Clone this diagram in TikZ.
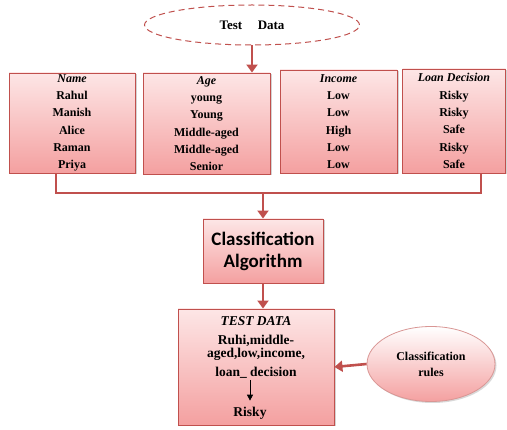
\documentclass[tikz,border=0pt]{standalone}
\usepackage{fontspec}
\setmainfont{Liberation Serif}
\newfontfamily\calfont{Carlito}
\usetikzlibrary{shapes.geometric,shadows,arrows.meta}
\definecolor{boxred}{HTML}{C0504D}
\definecolor{boxpink}{HTML}{F4A0A0}
\definecolor{boxlight}{HTML}{FDE6E6}
\begin{document}
\begin{tikzpicture}[x=1pt,y=-1pt,
  tbl/.style={draw=boxred, line width=0.9pt, top color=boxlight, bottom color=boxpink,
    drop shadow={opacity=0.35,shadow xshift=1.5pt,shadow yshift=-1.5pt},
    align=center, inner sep=0pt, font=\bfseries\fontsize{12}{17.3}\selectfont},
  link/.style={draw=boxred, line width=2.6pt},
  tip/.style={-{Triangle[length=8pt,width=11pt]}}]
\useasboundingbox (0,0) rectangle (507,430);
% input
\node[ellipse, draw=boxred, dash pattern=on 6pt off 4pt, line width=1pt, fill=white,
  minimum width=215pt, minimum height=40pt, font=\bfseries\fontsize{13}{15}\selectfont]
  (test) at (252,25) {Test\hspace{1.2em}Data};
% training table
\node[tbl, minimum width=126pt, minimum height=100pt] (name) at (72,123)
  {\textit{Name}\\Rahul\\Manish\\Alice\\Raman\\Priya};
\node[tbl, minimum width=127pt, minimum height=101pt] (age) at (206.5,123.5)
  {\textit{Age}\\young\\Young\\Middle-aged\\Middle-aged\\Senior};
\node[tbl, minimum width=117pt, minimum height=103pt] (income) at (338.5,121.5)
  {\textit{Income}\\Low\\Low\\High\\Low\\Low};
\node[tbl, minimum width=103pt, minimum height=104pt] (loan) at (454,121)
  {\textit{Loan Decision}\\Risky\\Risky\\Safe\\Risky\\Safe};
\draw[link,tip] (test.south) -- (test.south |- age.north);
% bus to algorithm
\coordinate (busl) at (56,193);
\coordinate (busr) at (481,193);
\node[tbl, minimum width=120pt, minimum height=64pt,
  font=\calfont\bfseries\fontsize{19}{22}\selectfont] (algo) at (263,251)
  {Classification\\Algorithm};
\draw[link] (name.south -| busl) -- (busl) -- (busr) -- (loan.south -| busr);
\draw[link,tip] (busl -| algo.north) -- (algo.north);
% result
\node[tbl, minimum width=156pt, minimum height=116pt] (result) at (256,367) {};
\draw[link,tip] (algo.south) -- (algo.south |- result.north);
\node[inner sep=1pt, font=\bfseries\itshape\fontsize{13.5}{16}\selectfont] (hdr) at (256,321) {TEST DATA};
\node[inner sep=1pt, align=center, font=\bfseries\fontsize{13.5}{13}\selectfont] (rec) at (256,357)
  {Ruhi,middle-\\aged,low,income,\\[6pt]loan\_ decision};
\node[inner sep=1pt, font=\bfseries\fontsize{13.5}{16}\selectfont] (risky) at (250,413) {Risky};
\draw[-{Triangle[length=6pt,width=6pt]}, line width=0.8pt, shorten >=5pt] (rec.south -| risky) -- (risky.north);
% rules
\node[ellipse, draw=boxred!60, line width=0.8pt, top color=white, bottom color=boxpink,
  drop shadow={opacity=0.3,shadow xshift=1.5pt,shadow yshift=-1.5pt},
  minimum width=128pt, minimum height=75pt, align=center,
  font=\bfseries\fontsize{12}{16}\selectfont] (rules) at (431,364) {Classification\\rules};
\draw[link,tip] (rules.west) -- (result.east);
\end{tikzpicture}
\end{document}
